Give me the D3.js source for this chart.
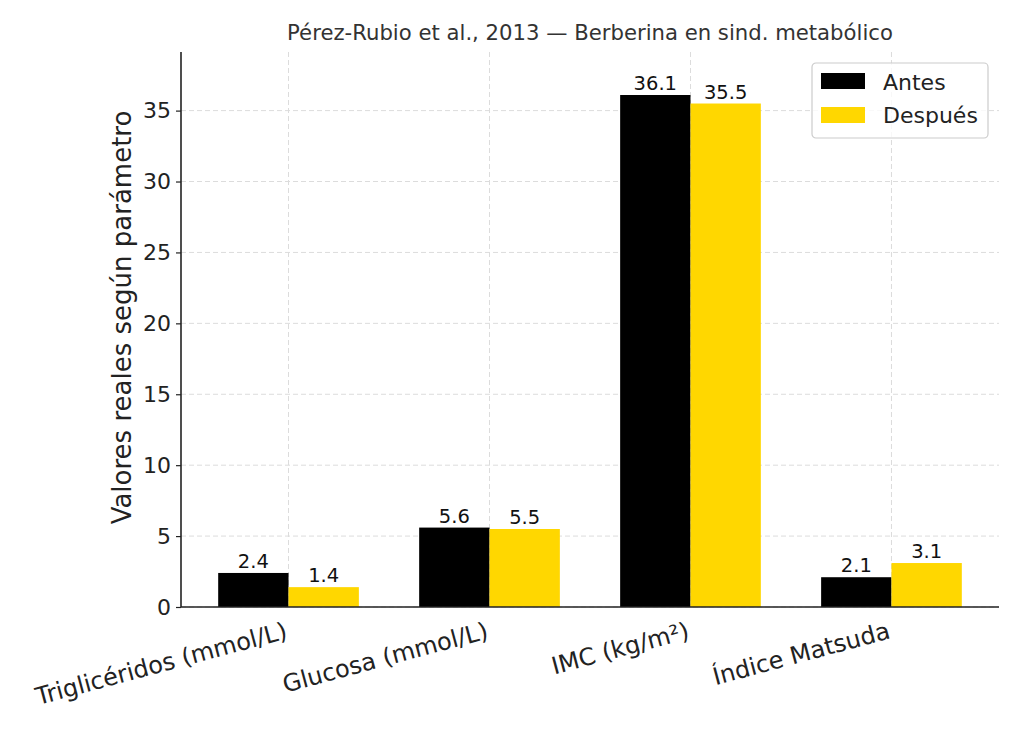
<!DOCTYPE html>
<html>
<head>
<meta charset="utf-8">
<script src="https://cdn.jsdelivr.net/npm/d3@7"></script>
<style>
  body { margin: 0; background: #fff; }
  text { font-family: "DejaVu Sans", sans-serif; }
</style>
</head>
<body>
<svg id="chart"></svg>
<script>
// Data
const categories = ["Triglicéridos (mmol/L)", "Glucosa (mmol/L)", "IMC (kg/m²)", "Índice Matsuda"];
const seriesNames = ["Antes", "Después"];
const antes = [2.4, 5.6, 36.1, 2.1];
const despues = [1.4, 5.5, 35.5, 3.1];
const yTicks = [0, 5, 10, 15, 20, 25, 30, 35];

// Chart dimensions
const Width = 1024;
const Height = 731;
const Left = 181, Right = 999, Top = 52, Bottom = 607;
const colors = { "Antes": "#000000", "Después": "#FFD700" };

const svg = d3.select("#chart")
  .attr("width", Width)
  .attr("height", Height);

// Scales
const xScale = d3.scaleBand()
  .domain(categories)
  .range([Left, Right])
  .paddingInner(0.3)
  .paddingOuter(0.185);

const xSub = d3.scaleBand()
  .domain(seriesNames)
  .range([0, xScale.bandwidth()]);

const yScale = d3.scaleLinear()
  .domain([0, d3.max(antes.concat(despues)) * 1.084])
  .range([Bottom, Top]);

// Grid lines
svg.append("g")
  .selectAll("line")
  .data(yTicks)
  .enter()
  .append("line")
  .attr("x1", Left).attr("x2", Right)
  .attr("y1", d => yScale(d)).attr("y2", d => yScale(d))
  .attr("stroke", "#dcdcdc")
  .attr("stroke-width", 1)
  .attr("stroke-dasharray", "5,3");

svg.append("g")
  .selectAll("line")
  .data(categories)
  .enter()
  .append("line")
  .attr("x1", d => xScale(d) + xScale.bandwidth() / 2)
  .attr("x2", d => xScale(d) + xScale.bandwidth() / 2)
  .attr("y1", Top).attr("y2", Bottom)
  .attr("stroke", "#dcdcdc")
  .attr("stroke-width", 1)
  .attr("stroke-dasharray", "5,3");

// Bars
const rows = categories.map((c, i) => ({ cat: c, values: [
  { key: "Antes", value: antes[i] },
  { key: "Después", value: despues[i] }
] }));

const groups = svg.selectAll("g.group")
  .data(rows)
  .enter()
  .append("g")
  .attr("class", "group")
  .attr("transform", d => `translate(${xScale(d.cat)},0)`);

groups.selectAll("rect")
  .data(d => d.values)
  .enter()
  .append("rect")
  .attr("x", d => xSub(d.key))
  .attr("y", d => yScale(d.value))
  .attr("width", xSub.bandwidth())
  .attr("height", d => Bottom - yScale(d.value))
  .attr("fill", d => colors[d.key]);

// Bar labels
groups.selectAll("text")
  .data(d => d.values)
  .enter()
  .append("text")
  .attr("x", d => xSub(d.key) + xSub.bandwidth() / 2)
  .attr("y", d => yScale(d.value) - 5)
  .attr("text-anchor", "middle")
  .attr("font-size", 19.5)
  .attr("fill", "#111")
  .text(d => d.value.toFixed(1));

// Y axis
const yAxis = svg.append("g")
  .attr("transform", `translate(${Left},0)`)
  .call(d3.axisLeft(yScale).tickValues(yTicks).tickSize(5).tickPadding(5));
yAxis.select(".domain").attr("d", `M0,${Top}V${Bottom}`).attr("stroke", "#222").attr("stroke-width", 1.6);
yAxis.selectAll(".tick line").attr("stroke", "#222").attr("stroke-width", 1.2);
yAxis.selectAll(".tick text").attr("font-size", 22).attr("fill", "#222")
  .attr("font-family", "DejaVu Sans, sans-serif");

// X axis
const xAxis = svg.append("g")
  .attr("transform", `translate(0,${Bottom})`)
  .call(d3.axisBottom(xScale).tickSize(0).tickPadding(0));
xAxis.select(".domain").attr("d", `M${Left},0H${Right}`).attr("stroke", "#222").attr("stroke-width", 1.6);
xAxis.selectAll(".tick text")
  .attr("font-size", 24)
  .attr("fill", "#222")
  .attr("font-family", "DejaVu Sans, sans-serif")
  .attr("text-anchor", "end")
  .attr("dy", 0)
  .attr("y", 0)
  .attr("transform", "translate(0,31) rotate(-15)");

// Title
svg.append("text")
  .attr("x", (Left + Right) / 2)
  .attr("y", 40)
  .attr("text-anchor", "middle")
  .attr("font-size", 21.2)
  .attr("fill", "#333")
  .text("Pérez-Rubio et al., 2013 — Berberina en sind. metabólico");

// Y label
svg.append("text")
  .attr("transform", `translate(131,${(Top + Bottom) / 2 - 12}) rotate(-90)`)
  .attr("text-anchor", "middle")
  .attr("font-size", 26)
  .attr("fill", "#222")
  .text("Valores reales según parámetro");

// Legend
const legend = svg.append("g").attr("transform", "translate(812,63)");
legend.append("rect")
  .attr("width", 176).attr("height", 75)
  .attr("rx", 4)
  .attr("fill", "#fff").attr("fill-opacity", 0.8)
  .attr("stroke", "#ccc").attr("stroke-width", 1.2);
seriesNames.forEach((s, i) => {
  legend.append("rect")
    .attr("x", 9).attr("y", 10 + i * 34)
    .attr("width", 44).attr("height", 16)
    .attr("fill", colors[s]);
  legend.append("text")
    .attr("x", 71).attr("y", 27 + i * 33)
    .attr("font-size", 22)
    .attr("fill", "#222")
    .text(s);
});
</script>
</body>
</html>
